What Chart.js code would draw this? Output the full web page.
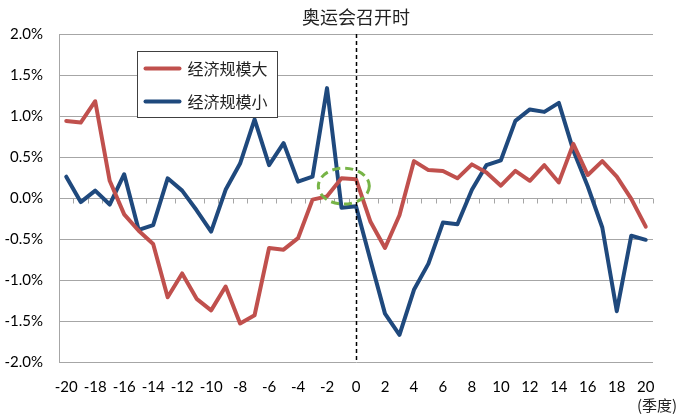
<!DOCTYPE html>
<html>
<head>
<meta charset="utf-8">
<script src="https://cdn.jsdelivr.net/npm/chart.js@4"></script>
<style>
body { margin: 0; background: #fff; }
</style>
</head>
<body>
<canvas id="olympicChart" width="688" height="420"></canvas>
<script>
// quarters relative to the Olympics (0 = the games)
const quarters = [-20, -19, -18, -17, -16, -15, -14, -13, -12, -11, -10, -9, -8, -7, -6, -5, -4, -3, -2, -1,
    0, 1, 2, 3, 4, 5, 6, 7, 8, 9, 10, 11, 12, 13, 14, 15, 16, 17, 18, 19, 20];

// 经济规模大 (%)
const bigEconomy = [0.94, 0.92, 1.18, 0.21, -0.20, -0.40, -0.56, -1.21, -0.92, -1.23, -1.37, -1.08, -1.53, -1.43,
    -0.61, -0.63, -0.49, -0.02, 0.02, 0.24, 0.23, -0.29, -0.61, -0.21, 0.45, 0.34, 0.33, 0.24, 0.41, 0.31,
    0.15, 0.33, 0.21, 0.40, 0.19, 0.66, 0.28, 0.45, 0.26, -0.01, -0.35];

// 经济规模小 (%)
const smallEconomy = [0.26, -0.05, 0.09, -0.08, 0.29, -0.39, -0.33, 0.24, 0.09, -0.15, -0.41, 0.10, 0.42, 0.96,
    0.40, 0.67, 0.20, 0.26, 1.34, -0.12, -0.10, -0.76, -1.41, -1.67, -1.12, -0.80, -0.30, -0.32, 0.10, 0.40,
    0.46, 0.94, 1.08, 1.05, 1.16, 0.58, 0.14, -0.36, -1.38, -0.46, -0.51];

const yTicks = [-2.0, -1.5, -1.0, -0.5, 0.0, 0.5, 1.0, 1.5, 2.0];

const chartTitle = '奥运会召开时';
const unitLabel = '(季度)';
const seriesNames = ['经济规模大', '经济规模小'];
const seriesColors = ['#c0504d', '#1f497d'];

// circled spot around the games
const circleQuarter = -0.84;
const circleValue = 0.145;

const gridGray = '#a6a6a6';
const cjkFont = '"Noto Sans CJK SC", sans-serif';

const extras = {
    id: 'extras',
    beforeDatasetsDraw(chart) {
        const { ctx, scales: { x, y } } = chart;
        // little ticks hanging under the 0% line
        const y0 = Math.round(y.getPixelForValue(0)) + 0.5;
        const step = x.getPixelForValue(1) - x.getPixelForValue(0);
        ctx.save();
        ctx.strokeStyle = gridGray;
        ctx.lineWidth = 1;
        for (let i = 0; i <= quarters.length; i++) {
            const px = Math.round(x.getPixelForValue(0) - step / 2 + i * step) + 0.5;
            ctx.beginPath();
            ctx.moveTo(px, y0);
            ctx.lineTo(px, y0 + 5);
            ctx.stroke();
        }
        ctx.restore();
    },
    afterDatasetsDraw(chart) {
        const { ctx, chartArea, scales: { x, y } } = chart;
        const zeroIdx = quarters.indexOf(0);
        const gx = x.getPixelForValue(zeroIdx);

        ctx.save();
        // dashed line at the games
        ctx.strokeStyle = '#000';
        ctx.lineWidth = 1.5;
        ctx.setLineDash([4, 3]);
        ctx.beginPath();
        ctx.moveTo(Math.round(gx) + 0.5, chartArea.top);
        ctx.lineTo(Math.round(gx) + 0.5, chartArea.bottom);
        ctx.stroke();

        // green dashed ellipse
        const ex = x.getPixelForValue(zeroIdx + circleQuarter);
        const ey = y.getPixelForValue(circleValue);
        ctx.strokeStyle = '#77b447';
        ctx.lineWidth = 3;
        ctx.setLineDash([8, 5]);
        ctx.beginPath();
        ctx.ellipse(ex, ey, 25.5, 18, 0, 0, Math.PI * 2);
        ctx.stroke();
        ctx.setLineDash([]);

        // title over the dashed line
        ctx.fillStyle = '#222';
        ctx.font = '18px ' + cjkFont;
        ctx.textAlign = 'center';
        ctx.textBaseline = 'middle';
        ctx.fillText(chartTitle, gx, 17);

        // unit under the axis
        ctx.font = '15px ' + cjkFont;
        ctx.fillText(unitLabel, 657, 405);

        // legend box
        const bx = chartArea.left + 78.5, by = chartArea.top + 17.5, bw = 140, bh = 66;
        ctx.fillStyle = '#fff';
        ctx.fillRect(bx, by, bw, bh);
        ctx.strokeStyle = '#404040';
        ctx.lineWidth = 1;
        ctx.strokeRect(bx, by, bw, bh);
        chart.data.datasets.forEach((ds, i) => {
            const ly = by + 17 + i * 33;
            ctx.strokeStyle = ds.borderColor;
            ctx.lineWidth = 4;
            ctx.lineCap = 'round';
            ctx.beginPath();
            ctx.moveTo(bx + 8, ly);
            ctx.lineTo(bx + 42, ly);
            ctx.stroke();
            ctx.fillStyle = '#222';
            ctx.font = '16px ' + cjkFont;
            ctx.textAlign = 'left';
            ctx.fillText(ds.label, bx + 50, ly);
        });
        ctx.restore();
    }
};

new Chart(document.getElementById('olympicChart'), {
    type: 'line',
    data: {
        labels: quarters,
        datasets: [
            {
                label: seriesNames[0],
                data: bigEconomy,
                borderColor: seriesColors[0],
                borderWidth: 4,
            },
            {
                label: seriesNames[1],
                data: smallEconomy,
                borderColor: seriesColors[1],
                borderWidth: 4,
            }
        ]
    },
    options: {
        responsive: false,
        animation: false,
        layout: { padding: { top: 34, right: 35, left: 0, bottom: 0 } },
        elements: {
            point: { radius: 0 },
            line: { tension: 0, borderJoinStyle: 'round', borderCapStyle: 'round' }
        },
        plugins: {
            legend: { display: false },
            title: { display: false },
            tooltip: { enabled: false }
        },
        scales: {
            x: {
                type: 'category',
                offset: true,
                grid: { display: false },
                border: { display: false },
                afterFit(scale) { scale.height = 58; },
                ticks: {
                    autoSkip: false,
                    maxRotation: 0,
                    padding: 8,
                    color: '#000',
                    font: { family: 'Lato', size: 15 },
                    callback(val, i) {
                        const q = quarters[i];
                        return q % 2 === 0 ? String(q) : '';
                    }
                }
            },
            y: {
                min: yTicks[0],
                max: yTicks[yTicks.length - 1],
                afterFit(scale) { scale.width = 59; },
                afterBuildTicks(scale) { scale.ticks = yTicks.map(v => ({ value: v })); },
                grid: { color: gridGray, lineWidth: 1, drawTicks: false },
                border: { display: true, color: gridGray },
                ticks: {
                    padding: 16,
                    color: '#000',
                    font: { family: 'Lato', size: 15 },
                    callback: v => v.toFixed(1) + '%'
                }
            }
        }
    },
    plugins: [extras]
});
</script>
</body>
</html>
